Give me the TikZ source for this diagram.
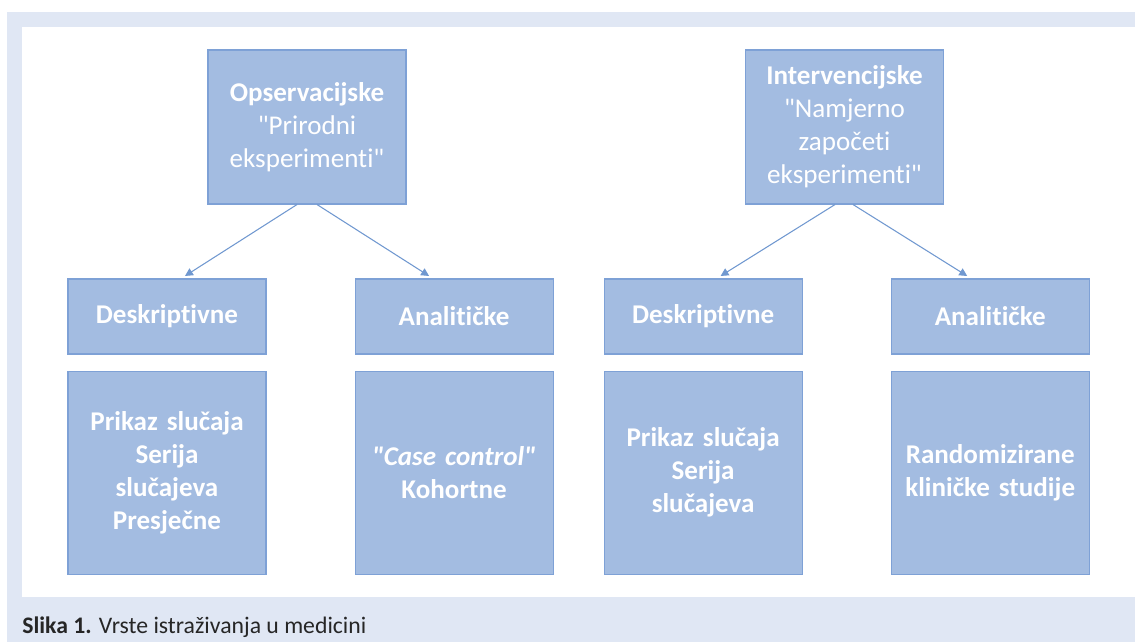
\documentclass[tikz,border=0pt]{standalone}
\usepackage{fontspec}
\setmainfont{Carlito}[Ligatures={TeXOff,NoCommon}]
\usepackage{tikz}
\usetikzlibrary{positioning,arrows.meta}

\definecolor{framegray}{RGB}{224,231,244}
\definecolor{boxfill}{RGB}{163,188,225}
\definecolor{boxline}{RGB}{126,161,214}
\definecolor{arrowblue}{RGB}{112,152,208}
\definecolor{captext}{RGB}{38,38,38}

\begin{document}
\begin{tikzpicture}[node distance=1.76cm,
  box/.style={rectangle,draw=boxline,fill=boxfill,line width=0.6pt,inner sep=0pt,
    minimum width=3.96cm,text width=3.8cm,align=center,text=white,
    font=\fontsize{15.4}{18.8}\selectfont},
  topbox/.style={box,minimum height=3.08cm},
  headbox/.style={box,minimum height=1.5cm,font=\fontsize{15.4}{18.8}\selectfont\bfseries},
  listbox/.style={box,minimum height=4.06cm,font=\fontsize{15.4}{18.8}\selectfont\bfseries},
  arrow/.style={draw=arrowblue,line width=0.6pt,-{Triangle[width=4.5pt,length=4.5pt]}}]
% frame
\useasboundingbox (0,0) rectangle (22.7,-12.84);
\fill[framegray] (0.14,-0.24) rectangle (22.7,-12.84);
\fill[white] (0.44,-0.54) rectangle (22.7,-11.94);
\node[anchor=base west,inner sep=0pt,text=captext,font=\fontsize{13.5}{16}\selectfont]
  (cap) at (0.44,-12.66) {\textbf{Slika 1.} Vrste istraživanja u medicini};
% top row
\node[topbox] (OL) at (6.14,-2.54) {\textbf{Opservacijske}\\"Prirodni\\eksperimenti"};
\node[topbox] (IR) at (16.89,-2.54) {\textbf{Intervencijske}\\"Namjerno\\započeti\\eksperimenti"};
% second row
\node[headbox] (DL) at (3.34,-6.33) {Deskriptivne};
\node[headbox] (AL) [right=of DL] {Analitičke};
\node[headbox] (DR) [right=1.0cm of AL] {Deskriptivne};
\node[headbox] (AR) [right=of DR] {Analitičke};
% third row
\node[listbox] (DLx) [below=0.32cm of DL] {Prikaz slučaja\\Serija\\slučajeva\\Presječne};
\node[listbox] (ALx) [below=0.32cm of AL] {\textit{"Case control"}\\Kohortne};
\node[listbox] (DRx) [below=0.32cm of DR] {Prikaz slučaja\\Serija\\slučajeva};
\node[listbox] (ARx) [below=0.32cm of AR] {Randomizirane\\kliničke studije};
% arrows
\draw[arrow] ([xshift=-0.2cm]OL.south) -- ([xshift=0.36cm,yshift=0.05cm]DL.north);
\draw[arrow] ([xshift=0.2cm]OL.south) -- ([xshift=-0.5cm,yshift=0.05cm]AL.north);
\draw[arrow] ([xshift=-0.19cm]IR.south) -- ([xshift=0.35cm,yshift=0.05cm]DR.north);
\draw[arrow] ([xshift=0.17cm]IR.south) -- ([xshift=-0.46cm,yshift=0.05cm]AR.north);
\end{tikzpicture}
\end{document}
